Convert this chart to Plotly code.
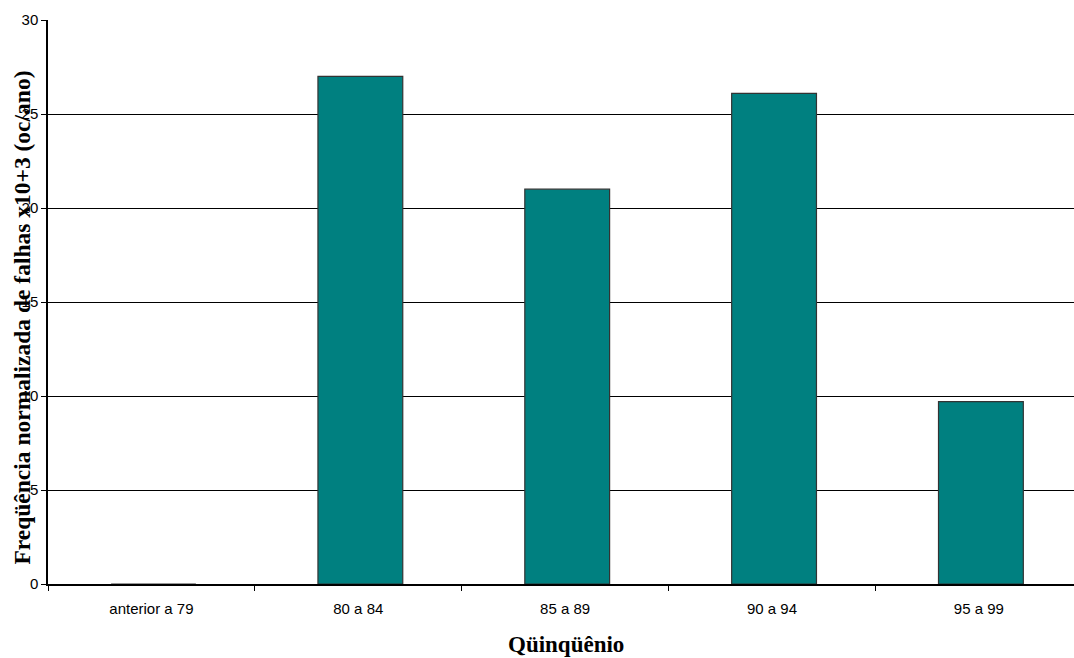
import plotly.graph_objects as go

categorias = ["anterior a 79", "80 a 84", "85 a 89", "90 a 94", "95 a 99"]
frequencia = [0, 27.0, 21.0, 26.1, 9.7]
y_ticks = [0, 5, 10, 15, 20, 25, 30]

fig = go.Figure()
fig.add_trace(go.Bar(
    x=categorias,
    y=frequencia,
    width=0.41,
    offset=-0.195,
    marker=dict(color="#008080", line=dict(color="#333333", width=1.2)),
))

fig.update_layout(
    width=1074,
    height=658,
    margin=dict(l=48, r=0, t=20, b=74),
    plot_bgcolor="white",
    paper_bgcolor="white",
    showlegend=False,
    font=dict(family="Liberation Sans, Arial, sans-serif", size=15, color="black"),
    xaxis=dict(
        range=[-0.5, 4.46],
        showline=True,
        linecolor="black",
        linewidth=1.5,
        ticks="outside",
        ticklen=5,
        tickcolor="black",
        tickson="boundaries",
        ticklabelstandoff=10,
        showgrid=False,
        tickfont=dict(size=15),
    ),
    yaxis=dict(
        range=[0, 30],
        tickvals=y_ticks,
        showline=True,
        linecolor="black",
        linewidth=1.5,
        ticks="outside",
        ticklen=5,
        tickcolor="black",
        showgrid=True,
        gridcolor="black",
        gridwidth=1,
        zeroline=False,
        tickfont=dict(size=15),
    ),
    annotations=[
        dict(
            text="<b>Freqüência normalizada de falhas x10+3 (oc/ano)</b>",
            xref="paper", yref="paper",
            x=-0.025, y=0.473,
            xanchor="center", yanchor="middle",
            textangle=-90,
            showarrow=False,
            font=dict(family="Liberation Serif, Times New Roman, serif", size=23.5, color="black"),
        ),
        dict(
            text="<b>Qüinqüênio</b>",
            xref="paper", yref="paper",
            x=0.505, y=-0.108,
            xanchor="center", yanchor="middle",
            showarrow=False,
            font=dict(family="Liberation Serif, Times New Roman, serif", size=23, color="black"),
        ),
    ],
)

fig.write_html("out.html")
